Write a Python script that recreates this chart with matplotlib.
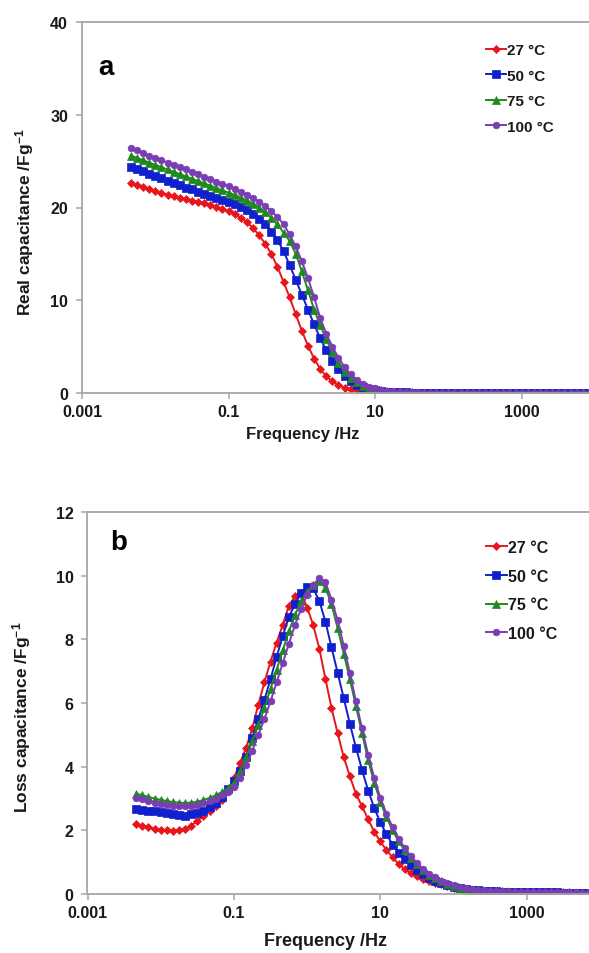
import matplotlib
matplotlib.use("Agg")
import matplotlib.pyplot as plt
from matplotlib.ticker import FixedLocator, NullLocator

plt.rcParams['font.family'] = ['Liberation Sans', 'DejaVu Sans']
plt.rcParams['font.weight'] = 'bold'
plt.rcParams['mathtext.fontset'] = 'custom'
plt.rcParams['mathtext.rm'] = 'Liberation Sans:bold'
plt.rcParams['mathtext.bf'] = 'Liberation Sans:bold'
plt.rcParams['mathtext.default'] = 'bf'

# ---------------- data ----------------
freq = [0.00464, 0.00562, 0.00681, 0.00825,
        0.01, 0.0121, 0.0147, 0.0178, 0.0215, 0.0261, 0.0316, 0.0383, 0.0464, 0.0562, 0.0681, 0.0825,
        0.1, 0.121, 0.147, 0.178, 0.215, 0.261, 0.316, 0.383, 0.464, 0.562, 0.681, 0.825,
        1, 1.21, 1.47, 1.78, 2.15, 2.61, 3.16, 3.83, 4.64, 5.62, 6.81, 8.25,
        10, 12.1, 14.7, 17.8, 21.5, 26.1, 31.6, 38.3, 46.4, 56.2, 68.1, 82.5,
        100, 121, 147, 178, 215, 261, 316, 383, 464, 562, 681, 825,
        1000, 1210, 1470, 1780, 2150, 2610, 3160, 3830, 4640, 5620, 6810, 8250,
        10000]

labels = ['27 °C', '50 °C', '75 °C', '100 °C']

# Real capacitance (F/g)
real_27 = [22.6, 22.4, 22.2, 22.0,
           21.8, 21.6, 21.4, 21.2, 21.05, 20.9, 20.75, 20.6, 20.45, 20.25, 20.05, 19.85,
           19.6, 19.3, 18.9, 18.4, 17.8, 17.0, 16.1, 15.0, 13.6, 12.0, 10.3, 8.5,
           6.7, 5.1, 3.7, 2.6, 1.8, 1.25, 0.85, 0.58, 0.4, 0.28, 0.2, 0.14,
           0.1, 0.08, 0.06, 0.05, 0.045, 0.04, 0.035, 0.03, 0.03, 0.03, 0.025, 0.025,
           0.025, 0.02, 0.02, 0.02, 0.02, 0.02, 0.02, 0.02, 0.02, 0.02, 0.02, 0.02,
           0.02, 0.02, 0.02, 0.02, 0.02, 0.02, 0.02, 0.02, 0.02, 0.02, 0.02, 0.02,
           0.02]
real_50 = [24.4, 24.15, 23.9, 23.65,
           23.4, 23.15, 22.9, 22.65, 22.4, 22.15, 21.95, 21.7, 21.5, 21.25, 21.05, 20.85,
           20.6, 20.35, 20.05, 19.7, 19.3, 18.8, 18.2, 17.4, 16.5, 15.3, 13.8, 12.2,
           10.6, 9.0, 7.4, 5.9, 4.6, 3.5, 2.6, 1.85, 1.3, 0.9, 0.62, 0.42,
           0.3, 0.21, 0.15, 0.11, 0.08, 0.06, 0.05, 0.04, 0.035, 0.03, 0.03, 0.025,
           0.025, 0.02, 0.02, 0.02, 0.02, 0.02, 0.02, 0.02, 0.02, 0.02, 0.02, 0.02,
           0.02, 0.02, 0.02, 0.02, 0.02, 0.02, 0.02, 0.02, 0.02, 0.02, 0.02, 0.02,
           0.02]
real_75 = [25.6, 25.35, 25.1, 24.85,
           24.6, 24.35, 24.1, 23.85, 23.6, 23.35, 23.1, 22.85, 22.6, 22.35, 22.1, 21.85,
           21.6, 21.35, 21.05, 20.75, 20.4, 20.0, 19.5, 18.9, 18.2, 17.3, 16.4, 15.0,
           13.1, 11.1, 9.0, 7.3, 5.8, 4.4, 3.2, 2.3, 1.65, 1.15, 0.8, 0.55,
           0.38, 0.27, 0.19, 0.13, 0.1, 0.08, 0.06, 0.05, 0.04, 0.035, 0.03, 0.03,
           0.025, 0.025, 0.02, 0.02, 0.02, 0.02, 0.02, 0.02, 0.02, 0.02, 0.02, 0.02,
           0.02, 0.02, 0.02, 0.02, 0.02, 0.02, 0.02, 0.02, 0.02, 0.02, 0.02, 0.02,
           0.02]
real_100 = [26.4, 26.15, 25.9, 25.6,
            25.35, 25.1, 24.85, 24.6, 24.35, 24.1, 23.85, 23.6, 23.3, 23.05, 22.8, 22.55,
            22.3, 22.0, 21.7, 21.4, 21.0, 20.6, 20.2, 19.6, 19.0, 18.2, 17.1, 15.8,
            14.2, 12.4, 10.3, 8.1, 6.4, 5.0, 3.8, 2.8, 2.0, 1.4, 1.0, 0.7,
            0.5, 0.35, 0.25, 0.18, 0.13, 0.1, 0.08, 0.06, 0.05, 0.04, 0.035, 0.03,
            0.03, 0.025, 0.025, 0.02, 0.02, 0.02, 0.02, 0.02, 0.02, 0.02, 0.02, 0.02,
            0.02, 0.02, 0.02, 0.02, 0.02, 0.02, 0.02, 0.02, 0.02, 0.02, 0.02, 0.02,
            0.02]

# Loss capacitance (F/g)
loss_27 = [2.2, 2.15, 2.1, 2.05,
           2.02, 2.0, 1.98, 2.0, 2.05, 2.15, 2.3, 2.45, 2.6, 2.75, 2.95, 3.25,
           3.65, 4.1, 4.6, 5.2, 5.95, 6.65, 7.3, 7.9, 8.45, 9.05, 9.35, 9.45,
           9.0, 8.45, 7.7, 6.75, 5.85, 5.05, 4.3, 3.7, 3.15, 2.75, 2.35, 1.95,
           1.65, 1.38, 1.15, 0.94, 0.78, 0.66, 0.56, 0.48, 0.42, 0.36, 0.3, 0.25,
           0.2, 0.17, 0.14, 0.12, 0.1, 0.09, 0.08, 0.075, 0.07, 0.065, 0.06, 0.06,
           0.055, 0.055, 0.05, 0.05, 0.05, 0.045, 0.045, 0.045, 0.04, 0.04, 0.04, 0.04,
           0.04]
loss_50 = [2.68, 2.65, 2.62, 2.6,
           2.57, 2.54, 2.5, 2.47, 2.46, 2.5, 2.55, 2.62, 2.72, 2.85, 3.05, 3.3,
           3.55, 3.85, 4.3, 4.9, 5.5, 6.1, 6.75, 7.45, 8.1, 8.7, 9.1, 9.45,
           9.65, 9.6, 9.2, 8.55, 7.75, 6.95, 6.15, 5.35, 4.6, 3.9, 3.25, 2.7,
           2.25, 1.88, 1.55, 1.3, 1.1, 0.92, 0.76, 0.62, 0.5, 0.41, 0.33, 0.27,
           0.22, 0.18, 0.15, 0.13, 0.11, 0.1, 0.09, 0.08, 0.075, 0.07, 0.065, 0.06,
           0.06, 0.055, 0.055, 0.05, 0.05, 0.05, 0.045, 0.045, 0.045, 0.04, 0.04, 0.04,
           0.04]
loss_75 = [3.15, 3.1, 3.05, 3.0,
           2.96, 2.92, 2.89, 2.87, 2.86, 2.87, 2.9, 2.95, 3.02, 3.1, 3.2, 3.32,
           3.5, 3.85, 4.3, 4.8, 5.3, 5.85, 6.45, 7.05, 7.65, 8.25, 8.75, 9.2,
           9.5, 9.72, 9.83, 9.62, 9.1, 8.35, 7.55, 6.75, 5.9, 5.05, 4.2, 3.5,
           2.9, 2.42, 2.0, 1.65, 1.37, 1.13, 0.93, 0.74, 0.6, 0.5, 0.4, 0.32,
           0.26, 0.2, 0.16, 0.13, 0.11, 0.1, 0.09, 0.085, 0.08, 0.075, 0.07, 0.065,
           0.06, 0.06, 0.055, 0.055, 0.05, 0.05, 0.05, 0.05, 0.045, 0.045, 0.045, 0.045,
           0.045]
loss_100 = [3.02, 2.97, 2.92, 2.87,
            2.83, 2.8, 2.77, 2.75, 2.75, 2.77, 2.8, 2.85, 2.92, 3.0, 3.1, 3.2,
            3.35, 3.65, 4.05, 4.5, 5.0, 5.5, 6.05, 6.65, 7.25, 7.85, 8.45, 8.95,
            9.4, 9.72, 9.92, 9.8, 9.25, 8.6, 7.8, 6.95, 6.05, 5.2, 4.38, 3.65,
            3.02, 2.52, 2.1, 1.74, 1.44, 1.19, 0.98, 0.79, 0.64, 0.52, 0.42, 0.34,
            0.28, 0.22, 0.18, 0.15, 0.12, 0.11, 0.1, 0.09, 0.085, 0.08, 0.075, 0.07,
            0.065, 0.06, 0.06, 0.055, 0.055, 0.05, 0.05, 0.05, 0.05, 0.045, 0.045, 0.045,
            0.045]

x_ticks = [0.001, 0.1, 10, 1000]
x_ticklabels = ['0.001', '0.1', '10', '1000']
yticks_a = [0, 10, 20, 30, 40]
yticks_b = [0, 2, 4, 6, 8, 10, 12]

# ---------------- styling ----------------
colors = ['#E8151B', '#1020CC', '#1E8A1E', '#7A3DB4']
markers = ['D', 's', '^', 'o']
msizes = [4.3, 5.2, 5.6, 4.8]
spine_col = '#A6A6A6'
text_col = '#1A1A1A'

W, H = 589, 954
fig = plt.figure(figsize=(W / 100, H / 100), dpi=100)


def box(l, t, r, b):
    return [l / W, 1 - b / H, (r - l) / W, (b - t) / H]


axA = fig.add_axes(box(82, 23, 595, 394))
axB = fig.add_axes(box(87.5, 513, 600, 895))


def draw(ax, series, yticks, ylim, legend_top, spacing, fs_leg):
    for vals, c, m, ms, lab in zip(series, colors, markers, msizes, labels):
        ax.plot(freq, vals, color=c, marker=m, markersize=ms, linewidth=1.4,
                markerfacecolor=c, markeredgecolor=c, markeredgewidth=0.5,
                label=lab, clip_on=True)
    ax.set_xscale('log')
    ax.set_xlim(0.001, 10000)
    ax.set_ylim(*ylim)
    ax.xaxis.set_major_locator(FixedLocator(x_ticks))
    ax.xaxis.set_minor_locator(NullLocator())
    ax.set_xticklabels(x_ticklabels)
    ax.set_yticks(yticks)
    ax.spines['right'].set_visible(False)
    for s in ['left', 'bottom', 'top']:
        ax.spines[s].set_color(spine_col)
        ax.spines[s].set_linewidth(1.3)
    ax.tick_params(axis='both', direction='out', length=4, width=1.1,
                   color=spine_col, labelcolor=text_col, labelsize=11.5)
    ax.tick_params(axis='y', pad=6)
    ax.tick_params(axis='x', pad=4)
    ax.legend(loc='upper left', bbox_to_anchor=(486 / W, 1 - legend_top / H),
              bbox_transform=fig.transFigure, frameon=False, handlelength=1.3,
              handletextpad=0.1, labelspacing=spacing, borderpad=0,
              borderaxespad=0, numpoints=1,
              prop={'size': fs_leg, 'weight': 'bold'}, labelcolor=text_col)


draw(axA, [real_27, real_50, real_75, real_100], yticks_a, (0, 40), 44, 0.76, 11)
draw(axB, [loss_27, loss_50, loss_75, loss_100], yticks_b, (0, 12), 541, 0.85, 11.5)

# axis titles
fig.text(25 / W, 1 - 222 / H, 'Real capacitance /Fg$^{-1}$', rotation=90,
         ha='center', va='center', fontsize=12.5, color=text_col)
fig.text(303 / W, 1 - 435 / H, 'Frequency /Hz', ha='center', va='center',
         fontsize=12, color=text_col)
fig.text(22 / W, 1 - 717 / H, 'Loss capacitance /Fg$^{-1}$', rotation=90,
         ha='center', va='center', fontsize=12.5, color=text_col)
fig.text(326 / W, 1 - 942 / H, 'Frequency /Hz', ha='center', va='center',
         fontsize=13, color=text_col)

# panel letters
fig.text(106 / W, 1 - 68 / H, 'a', ha='center', va='center', fontsize=20, color='black')
fig.text(119 / W, 1 - 543 / H, 'b', ha='center', va='center', fontsize=20, color='black')

fig.savefig('out.png', dpi=100)
